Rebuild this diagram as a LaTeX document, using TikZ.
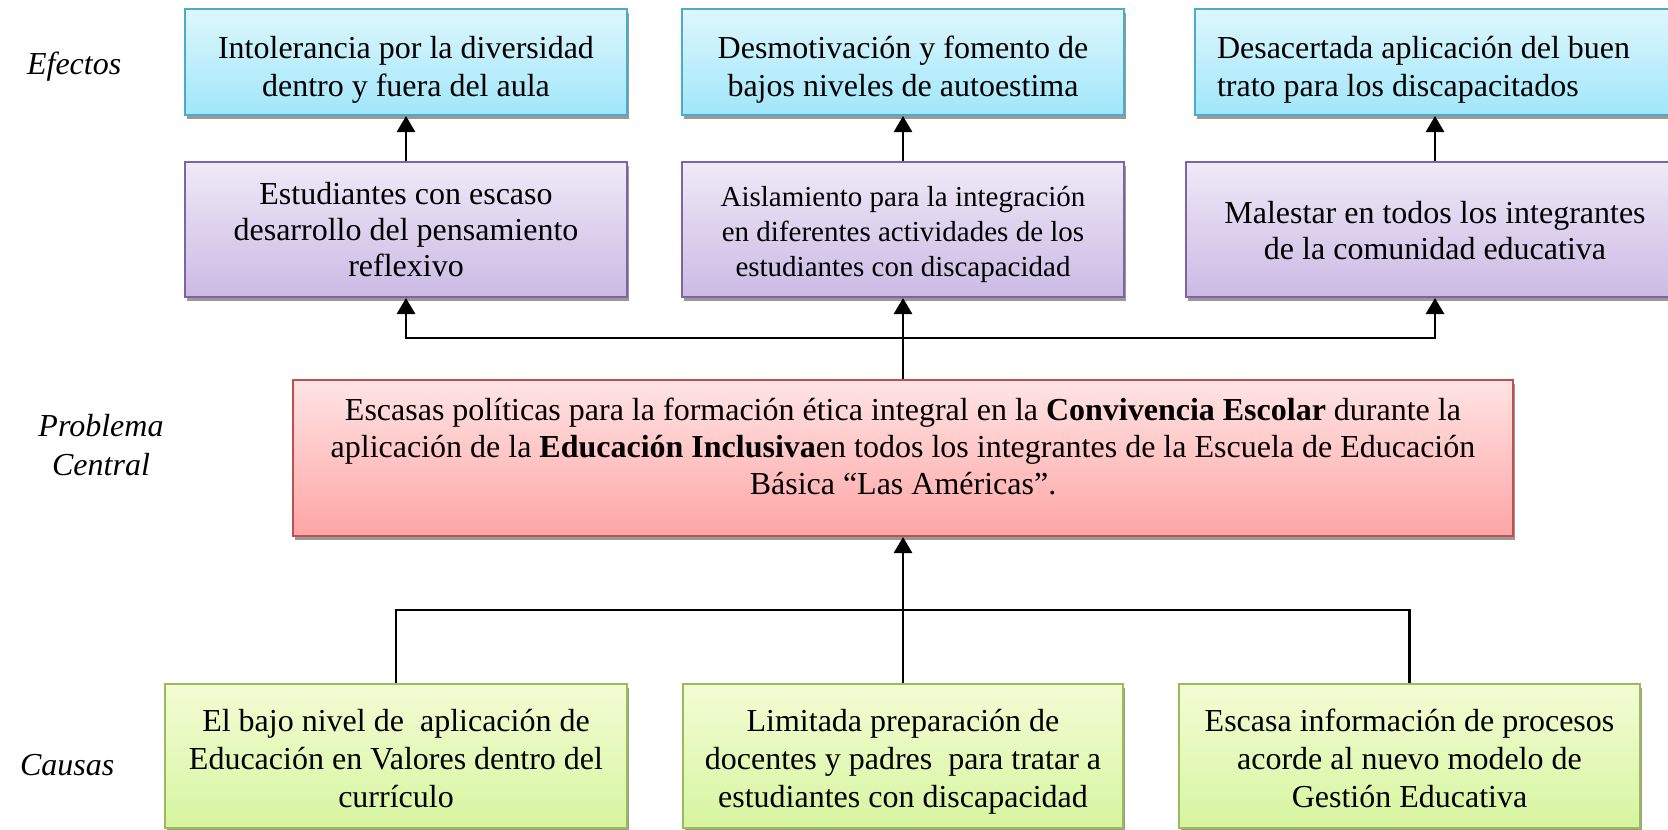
\documentclass[tikz,border=0pt]{standalone}
\usepackage{fontspec}
\setmainfont{Liberation Serif}
\usetikzlibrary{shadows,arrows.meta}
\definecolor{bluetop}{RGB}{222,247,253}
\definecolor{bluebot}{RGB}{160,230,250}
\definecolor{blueln}{RGB}{75,172,198}
\definecolor{purtop}{RGB}{239,233,247}
\definecolor{purbot}{RGB}{203,186,228}
\definecolor{purln}{RGB}{128,100,162}
\definecolor{redtop}{RGB}{255,228,228}
\definecolor{redbot}{RGB}{255,165,165}
\definecolor{redln}{RGB}{192,80,77}
\definecolor{grntop}{RGB}{243,252,212}
\definecolor{grnbot}{RGB}{214,245,160}
\definecolor{grnln}{RGB}{155,187,89}
\tikzset{
  box/.style={draw, line width=1pt, inner sep=0pt, align=center,
    font=\fontsize{16}{18.4}\selectfont,
    drop shadow={shadow xshift=1pt, shadow yshift=-2pt, fill=black!40, opacity=1}},
  eff/.style={box, draw=blueln, top color=bluetop, bottom color=bluebot, minimum width=221pt, minimum height=53pt,
    font=\fontsize{16}{19.2}\selectfont, text height=39.5pt, text depth=5pt},
  pur/.style={box, draw=purln, top color=purtop, bottom color=purbot, minimum width=221pt, minimum height=67.5pt,
    font=\fontsize{16}{17.8}\selectfont, text height=50.5pt, text depth=4pt},
  prob/.style={box, draw=redln, top color=redtop, bottom color=redbot, minimum width=610pt, minimum height=78pt,
    text height=40pt, text depth=4pt},
  cause/.style={box, draw=grnln, top color=grntop, bottom color=grnbot, minimum height=72pt,
    font=\fontsize{16}{19}\selectfont, text height=55.5pt, text depth=4pt},
  ln/.style={line width=1.4pt},
  arr/.style={line width=1.4pt, -{Triangle[width=9pt,length=8pt]}},
  lab/.style={font=\fontsize{16}{19.5}\selectfont\itshape}
}
\begin{document}
\begin{tikzpicture}[x=0.5pt, y=-0.5pt]
\useasboundingbox (0,0) rectangle (1668,829);
\clip (0,0) rectangle (1668,829);
% labels
\node[lab, anchor=base west] (l1) at (20,75) {Efectos};
\node[lab, align=center] (l2) at (101,445) {Problema\\Central};
\node[lab, anchor=base west] (l3) at (13,775) {Causas};
% effects
\node[eff] (e1) at (406,62) {Intolerancia por la diversidad\\dentro y fuera del aula};
\node[eff] (e2) at (903,62) {Desmotivación y fomento de\\bajos niveles de autoestima};
\node[eff, minimum width=240pt, text width=218pt, align=flush left, inner xsep=11pt, text height=18.5pt, text depth=22pt] (e3) at (1435,62) {Desacertada aplicación del buen\\trato para los discapacitados};
% purple
\node[pur] (p1) at (406,229.5) {Estudiantes con escaso\\desarrollo del pensamiento\\reflexivo};
\node[pur, font=\fontsize{14.5}{17.5}\selectfont] (p2) at (903,229.5) {Aislamiento para la integración\\en diferentes actividades de los\\estudiantes con discapacidad};
\node[pur, minimum width=249pt, text height=34pt] (p3) at (1435,229.5) {Malestar en todos los integrantes\\de la comunidad educativa};
% central problem
\node[prob] (c) at (903,458) {Escasas políticas para la formación ética integral en la \textbf{Convivencia Escolar} durante la\\aplicación de la \textbf{Educación Inclusiva}en todos los integrantes de la Escuela de Educación\\Básica “Las Américas”.};
% causes
\node[cause, minimum width=231pt] (g1) at (396,756) {El bajo nivel de\ \ aplicación de\\Educación en Valores dentro del\\currículo};
\node[cause, minimum width=220pt] (g2) at (903,756) {Limitada preparación de\\docentes y padres\ \ para tratar a\\estudiantes con discapacidad};
\node[cause, minimum width=230.5pt] (g3) at (1409.5,756) {Escasa información de procesos\\acorde al nuevo modelo de\\Gestión Educativa};
% connectors
\coordinate (j) at (903,338);
\coordinate (k) at (903,610);
\draw[ln] (c.north) -- (j);
\draw[arr] (j) -| (p1.south);
\draw[arr] (j) -| (p3.south);
\draw[arr] (j) -- (p2.south);
\draw[arr] (p1.north) -- (e1.south);
\draw[arr] (p2.north) -- (e2.south);
\draw[arr] (p3.north) -- (e3.south);
\draw[ln] (g1.north) |- (k) -| (g3.north);
\draw[arr] (g2.north) -- (c.south);
\end{tikzpicture}
\end{document}
